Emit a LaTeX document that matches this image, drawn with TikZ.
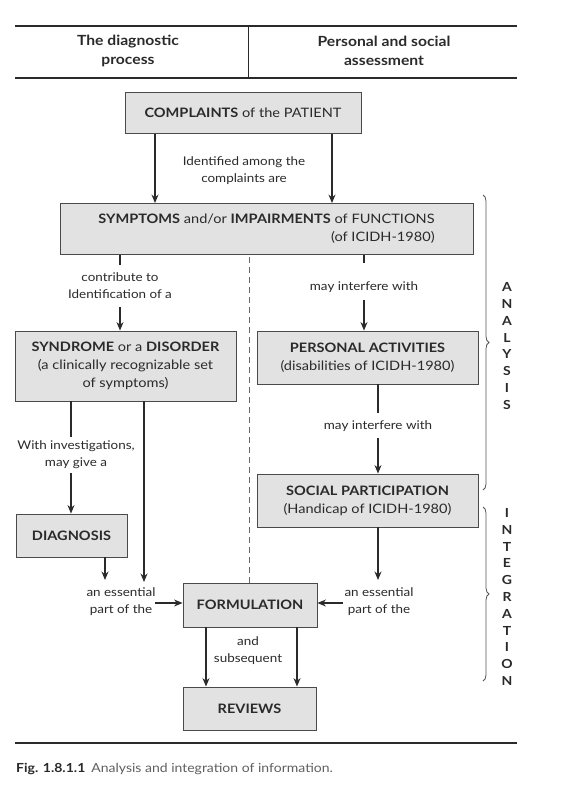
\documentclass[tikz,border=0pt]{standalone}
\usepackage{fontspec}
\setmainfont{Lato}[FakeStretch=1.12]
\usetikzlibrary{arrows.meta,decorations.pathreplacing}
\definecolor{ink}{HTML}{2A2A2A}
\definecolor{boxfill}{HTML}{E2E2E2}
\tikzset{
  blk/.style={draw=ink!85, fill=boxfill, line width=0.9pt, inner sep=0pt, align=center, text=ink,
    font=\fontsize{13}{18}\selectfont},
  lbl/.style={inner sep=0pt, align=center, text=ink, font=\fontsize{12}{17}\selectfont},
  conn/.style={draw=ink, line width=1.1pt},
  arr/.style={conn, -{Stealth[length=8.5pt,width=7pt]}},
  rule/.style={draw=ink, line width=1.1pt},
  brc/.style={draw=ink!80, line width=0.8pt, decorate, decoration={brace, amplitude=6pt}},
  vlet/.style={inner sep=0pt, align=center, text=ink, font=\bfseries\fontsize{12.5}{16.8}\selectfont}
}
\begin{document}
\begin{tikzpicture}[x=1pt,y=-1pt]
\useasboundingbox (0,0) rectangle (564,796);
% header
\coordinate (r1a) at (15,26); \coordinate (r1b) at (517,26);
\coordinate (r2a) at (15,78); \coordinate (r2b) at (517,78);
\coordinate (dva) at (248,26); \coordinate (dvb) at (248,78);
\draw[rule] (r1a) -- (r1b);
\draw[rule] (r2a) -- (r2b);
\draw[conn, line width=0.8pt] (dva) -- (dvb);
\node[lbl, font=\bfseries\fontsize{14}{19}\selectfont] (h1) at (128,51) {The diagnostic\\process};
\node[lbl, font=\bfseries\fontsize{14}{19}\selectfont] (h2) at (384,51) {Personal and social\\assessment};

% boxes
\node[blk, minimum width=236pt, minimum height=41pt] (comp) at (243,113) {\textbf{COMPLAINTS} of the PATIENT};
\node[blk, minimum width=413pt, minimum height=51pt, align=right] (symp) at (266.5,229) {\textbf{SYMPTOMS} and/or \textbf{IMPAIRMENTS} of FUNCTIONS\\(of ICIDH-1980)};
\node[blk, minimum width=221pt, minimum height=70pt] (synd) at (125.5,366) {\textbf{SYNDROME} or a \textbf{DISORDER}\\(a clinically recognizable set\\of symptoms)};
\node[blk, minimum width=221pt, minimum height=53pt] (pers) at (367.5,357.5) {\textbf{PERSONAL ACTIVITIES}\\(disabilities of ICIDH-1980)};
\node[blk, minimum width=221pt, minimum height=53pt] (soc) at (367.5,500.5) {\textbf{SOCIAL PARTICIPATION}\\(Handicap of ICIDH-1980)};
\node[blk, minimum width=111pt, minimum height=43pt] (diag) at (71.5,535.5) {\textbf{DIAGNOSIS}};
\node[blk, minimum width=134pt, minimum height=44pt] (form) at (250,605) {\textbf{FORMULATION}};
\node[blk, minimum width=133pt, minimum height=43pt] (rev) at (249.5,708.5) {\textbf{REVIEWS}};

% complaints -> symptoms
\node[lbl] (l1) at (244,171) {Identified among the\\complaints are};
\draw[arr] (comp.south -| 155,0) -- (symp.north -| 155,0);
\draw[arr] (comp.south -| 332,0) -- (symp.north -| 332,0);

% symptoms -> syndrome
\node[lbl] (l2) at (120,286) {contribute to\\Identification of a};
\coordinate (l2t) at (120,265);
\coordinate (l2b) at (120,307);
\draw[conn] (symp.south -| l2t) -- (l2t);
\draw[arr] (l2b) -- (synd.north -| l2b);

% symptoms -> personal
\node[lbl] (l3) at (364,287) {may interfere with};
\coordinate (l3t) at (364,263);
\coordinate (l3b) at (364,300);
\draw[conn] (symp.south -| l3t) -- (l3t);
\draw[arr] (l3b) -- (pers.north -| l3b);

% personal -> social
\node[lbl] (l4) at (378,426) {may interfere with};
\coordinate (l4t) at (378,413);
\coordinate (l4b) at (378,438);
\draw[conn] (pers.south -| l4t) -- (l4t);
\draw[arr] (l4b) -- (soc.north -| l4b);

% syndrome -> diagnosis
\node[lbl] (l5) at (76,455) {With investigations,\\may give a};
\coordinate (l5t) at (71,437);
\coordinate (l5b) at (71,473);
\draw[conn] (synd.south -| l5t) -- (l5t);
\draw[arr] (l5b) -- (diag.north -| l5b);

% to formulation (left)
\node[lbl] (l6) at (121,602) {an essential\\part of the};
\coordinate (e1) at (144,582);
\coordinate (e2) at (105,580);
\coordinate (f1) at (155,603);
\draw[arr] (synd.south -| e1) -- (e1);
\draw[arr] (diag.south -| e2) -- (e2);
\draw[arr] (f1) -- (form.west |- f1);

% to formulation (right)
\node[lbl] (l7) at (379,602) {an essential\\part of the};
\coordinate (e3) at (378,580);
\coordinate (f2) at (343,603);
\draw[arr] (soc.south -| e3) -- (e3);
\draw[arr] (f2) -- (form.east |- f2);

% formulation -> reviews
\node[lbl] (l8) at (248,651) {and\\subsequent};
\draw[arr] (form.south -| 206,0) -- (rev.north -| 206,0);
\draw[arr] (form.south -| 297,0) -- (rev.north -| 297,0);

% dashed divider
\coordinate (dt) at (249,257);
\draw[draw=ink!70, line width=0.9pt, dash pattern=on 6pt off 4pt] (dt) -- (form.north -| dt);

% braces
\coordinate (b1t) at (483,195); \coordinate (b1b) at (483,490);
\coordinate (b2t) at (483,507); \coordinate (b2b) at (483,681);
\draw[brc] (b1t) -- (b1b);
\draw[brc] (b2t) -- (b2b);
\node[vlet] (an) at (507,346) {A\\N\\A\\L\\Y\\S\\I\\S};
\node[vlet] (in) at (507,597) {I\\N\\T\\E\\G\\R\\A\\T\\I\\O\\N};

% bottom rule and caption
\coordinate (r3a) at (15,743); \coordinate (r3b) at (517,743);
\draw[draw=ink, line width=1.5pt] (r3a) -- (r3b);
\node[anchor=base west, inner sep=0pt, text=ink, font=\fontsize{12.5}{14}\selectfont] (cap) at (16,772) {\textbf{Fig. 1.8.1.1}\hspace{6pt}{\color{ink!75}Analysis and integration of information.}};
\end{tikzpicture}
\end{document}
